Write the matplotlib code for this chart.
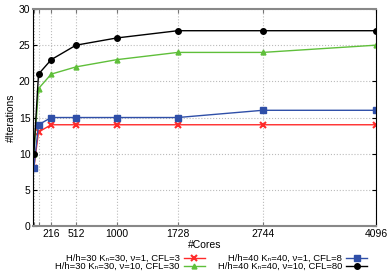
import matplotlib
matplotlib.use("Agg")
import matplotlib.pyplot as plt

plt.rcParams['font.family'] = ['Liberation Sans', 'DejaVu Sans']

cores = [8, 64, 216, 512, 1000, 1728, 2744, 4096]
xtick_pos = [8, 64, 216, 512, 1000, 1728, 2744, 4096]
xtick_lab = ['', '', '216', '512', '1000', '1728', '2744', '4096']
yticks = [0, 5, 10, 15, 20, 25, 30]

it_30_cfl3 = [8, 13, 14, 14, 14, 14, 14, 14]
it_30_cfl30 = [10, 19, 21, 22, 23, 24, 24, 25]
it_40_cfl8 = [8, 14, 15, 15, 15, 15, 16, 16]
it_40_cfl80 = [10, 21, 23, 25, 26, 27, 27, 27]

labels = ['H/h=30 Kₙ=30, ν=1, CFL=3',
          'H/h=30 Kₙ=30, ν=10, CFL=30',
          'H/h=40 Kₙ=40, ν=1, CFL=8',
          'H/h=40 Kₙ=40, ν=10, CFL=80']

fig = plt.figure(figsize=(3.9, 2.73), dpi=100)
ax = fig.add_axes([0.085, 0.172, 0.879, 0.795])

l1, = ax.plot(cores, it_30_cfl3, color='#ff2a2a', lw=1, marker='x', ms=4, mew=1.5)
l2, = ax.plot(cores, it_30_cfl30, color='#5fbf3a', lw=1, marker='^', ms=3.5)
l3, = ax.plot(cores, it_40_cfl8, color='#2f4fa8', lw=1, marker='s', ms=4)
l4, = ax.plot(cores, it_40_cfl80, color='black', lw=1, marker='o', ms=4)

ax.set_xlim(0, 4096)
ax.set_ylim(0, 30)
ax.set_xticks(xtick_pos)
ax.set_xticklabels(xtick_lab)
ax.set_yticks(yticks)
ax.tick_params(direction='in', labelsize=7.5, length=3, top=True, right=True, pad=2)
ax.tick_params(axis='x', colors='#777777', labelcolor='black')
ax.grid(True, color='#bbbbbb', ls=':', lw=0.8)

ax.spines['left'].set_color('black')
ax.spines['right'].set_color('black')
ax.spines['top'].set_color('#888888')
ax.spines['bottom'].set_color('#888888')
ax.spines['top'].set_linewidth(1.5)
ax.spines['bottom'].set_linewidth(1.5)

ax.set_xlabel('#Cores', fontsize=7.5, labelpad=1)
ax.set_ylabel('#Iterations', fontsize=7.5, labelpad=2)

fig.legend([l1, l2, l3, l4], labels, ncol=2, loc='lower right',
           bbox_to_anchor=(0.942, 0.008), frameon=False, fontsize=6.8,
           markerfirst=False, labelspacing=-0.12, columnspacing=1.3,
           handlelength=2.3, handletextpad=0.4, borderpad=0, borderaxespad=0)

fig.savefig('out.png', dpi=100)
